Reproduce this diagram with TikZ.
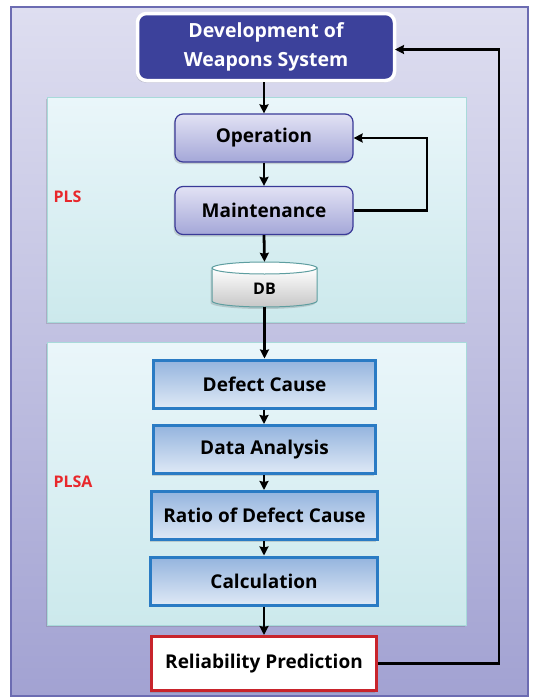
\documentclass[tikz,border=0pt]{standalone}
\usepackage{fontspec}
\setmainfont{Open Sans}
\usetikzlibrary{arrows.meta,shadows}
\definecolor{frametop}{HTML}{DEDEF0}
\definecolor{framebot}{HTML}{A2A2D2}
\definecolor{frameline}{HTML}{6C6CB2}
\definecolor{topfill}{HTML}{3C419B}
\definecolor{paneltop}{HTML}{EAF6FA}
\definecolor{panelbot}{HTML}{CCE9EC}
\definecolor{panelline}{HTML}{A8DADA}
\definecolor{optop}{HTML}{E2E2F4}
\definecolor{opbot}{HTML}{A4A7D8}
\definecolor{opline}{HTML}{3A3A98}
\definecolor{bluetop}{HTML}{94B4DE}
\definecolor{bluebot}{HTML}{DFE9F6}
\definecolor{blueline}{HTML}{2A7BC4}
\definecolor{redline}{HTML}{C8242C}
\definecolor{labred}{HTML}{E8282C}
\definecolor{dbline}{HTML}{5E9EA0}
\tikzset{
  shad/.style={drop shadow={shadow xshift=-1.5pt,shadow yshift=-2pt,opacity=0.25,fill=black!60}},
  panel/.style={draw=panelline,line width=0.8pt,top color=paneltop,bottom color=panelbot,shad},
  opbox/.style={draw=opline,line width=1.2pt,rounded corners=8pt,top color=optop,bottom color=opbot,
    minimum width=178pt,minimum height=48pt,font=\bfseries\fontsize{19}{21}\selectfont,shad},
  bluebox/.style={draw=blueline,line width=3pt,top color=bluetop,bottom color=bluebot,
    minimum height=48pt,font=\bfseries\fontsize{19}{21}\selectfont,shad},
  arr/.style={line width=2.8pt,-{Stealth[length=9pt,width=9pt,inset=1pt]}},
  lab/.style={text=labred,font=\bfseries\fontsize{16}{18}\selectfont,anchor=west}
}
\begin{document}
\begin{tikzpicture}[x=1pt,y=-1pt]
\useasboundingbox (0,0) rectangle (537,699);
% outer frame
\draw[frameline,line width=1.2pt,top color=frametop,bottom color=framebot] (11,7) rectangle (528,696);
% panels
\path[panel] (47,97) rectangle (466,322);
\path[panel] (47,342) rectangle (466,625);
\node[lab] (pls) at (50,197) {PLS};
\node[lab] (plsa) at (50,482) {PLSA};
% top node
\node[draw=white,line width=3.5pt,fill=topfill,rounded corners=9pt,text=white,align=center,
  minimum width=257pt,minimum height=67pt,font=\bfseries\fontsize{19.5}{29}\selectfont,
  drop shadow={shadow xshift=-1.5pt,shadow yshift=-2pt,opacity=0.3}]
  (dev) at (266,47) {Development of\\Weapons System};
% PLS nodes
\node[opbox] (op) at (264,138) {Operation};
\node[opbox] (mt) at (264,210.5) {Maintenance};
% DB cylinder
\node[minimum width=105pt,minimum height=45pt,inner sep=0pt] (db) at (264.5,284.5) {};
\path[draw=dbline,line width=1pt,top color=white,bottom color=black!22,shad]
  (212,268) -- (212,301) arc[start angle=180,end angle=0,x radius=52.5,y radius=6] -- (317,268) -- cycle;
\draw[dbline,line width=1pt,fill=white] (264.5,268) ellipse[x radius=52.5,y radius=6];
\node[font=\bfseries\fontsize{16}{18}\selectfont] at (264.5,289) {DB};
% PLSA nodes
\node[bluebox,minimum width=222pt] (dc) at (264.5,384) {Defect Cause};
\node[bluebox,minimum width=222pt] (da) at (264.5,449.5) {Data Analysis};
\node[bluebox,minimum width=226pt] (rd) at (264.5,515.5) {Ratio of Defect Cause};
\node[bluebox,minimum width=227pt] (ca) at (264,581) {Calculation};
% reliability
\node[draw=redline,line width=3pt,fill=white,minimum width=225pt,minimum height=54pt,
  font=\bfseries\fontsize{19}{21}\selectfont,shad] (rp) at (264,663.5) {Reliability Prediction};
% arrows
\draw[arr] (dev.south -| op.north) -- (op.north);
\draw[arr] (op) -- (mt);
\draw[arr] (mt.south) -- (db.north);
\draw[arr] (db.south) -- (dc.north -| db.south);
\draw[arr] (dc.south -| ca.north) -- (da.north -| ca.north);
\draw[arr] (da.south -| ca.north) -- (rd.north -| ca.north);
\draw[arr] (rd.south -| ca.north) -- (ca.north);
\draw[arr] (ca.south) -- (rp.north -| ca.south);
\coordinate (fb) at (427,0);
\draw[arr] (mt.east) -- (mt.east -| fb) -- (fb |- op.east) -- (op.east);
\coordinate (rt) at (499,0);
\coordinate (rin) at (395,49.5);
\draw[arr] (rp.east) -- (rp.east -| rt) -- (rt |- rin) -- (rin);
\end{tikzpicture}
\end{document}
